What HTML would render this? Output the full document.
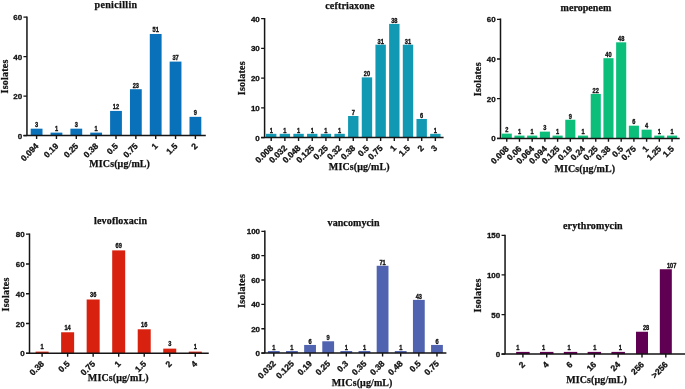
<!DOCTYPE html>
<html><head><meta charset="utf-8"><style>
html,body{margin:0;padding:0;background:#fff;}
body{width:685px;height:389px;overflow:hidden;}
svg{display:block;will-change:transform;}
.yt{font-family:'Liberation Sans', sans-serif;font-weight:bold;font-size:8px;fill:#111;stroke:#111;stroke-width:0.3px;}
.xt{font-family:'Liberation Sans', sans-serif;font-weight:bold;font-size:8.5px;fill:#111;stroke:#111;stroke-width:0.3px;}
.vl{font-family:'Liberation Sans', sans-serif;font-weight:bold;font-size:6.8px;fill:#111;stroke:#111;stroke-width:0.35px;}
.ti{font-family:'Liberation Serif', serif;font-weight:bold;font-size:10px;fill:#111;stroke:#111;stroke-width:0.25px;}
</style></head><body>
<svg width="685" height="389" viewBox="0 0 685 389">
<rect x="30.7" y="128.68" width="11.8" height="6.92" fill="#0871b9"/>
<rect x="50.55" y="132.63" width="11.8" height="2.97" fill="#0871b9"/>
<rect x="70.4" y="128.68" width="11.8" height="6.92" fill="#0871b9"/>
<rect x="90.25" y="132.63" width="11.8" height="2.97" fill="#0871b9"/>
<rect x="110.1" y="110.92" width="11.8" height="24.68" fill="#0871b9"/>
<rect x="129.95" y="89.21" width="11.8" height="46.39" fill="#0871b9"/>
<rect x="149.8" y="33.96" width="11.8" height="101.64" fill="#0871b9"/>
<rect x="169.65" y="61.59" width="11.8" height="74.01" fill="#0871b9"/>
<rect x="189.5" y="116.84" width="11.8" height="18.76" fill="#0871b9"/>
<path d="M26.95 16.5V135.6M23.45 135.6H205.8" stroke="#151515" stroke-width="1.5" fill="none"/>
<text x="22.15" y="138.6" text-anchor="end" class="yt">0</text>
<text x="22.15" y="99.13" text-anchor="end" class="yt">20</text>
<text x="22.15" y="59.67" text-anchor="end" class="yt">40</text>
<text x="22.15" y="20.2" text-anchor="end" class="yt">60</text>
<path d="M23.45 135.6H26.95M23.45 96.13H26.95M23.45 56.67H26.95M23.45 17.2H26.95" stroke="#151515" stroke-width="1.3" fill="none"/>
<text transform="translate(39.2 146.6) rotate(-45)" text-anchor="end" class="xt">0.094</text>
<text transform="translate(59.05 146.6) rotate(-45)" text-anchor="end" class="xt">0.19</text>
<text transform="translate(78.9 146.6) rotate(-45)" text-anchor="end" class="xt">0.25</text>
<text transform="translate(98.75 146.6) rotate(-45)" text-anchor="end" class="xt">0.38</text>
<text transform="translate(118.6 146.6) rotate(-45)" text-anchor="end" class="xt">0.5</text>
<text transform="translate(138.45 146.6) rotate(-45)" text-anchor="end" class="xt">0.75</text>
<text transform="translate(158.3 146.6) rotate(-45)" text-anchor="end" class="xt">1</text>
<text transform="translate(178.15 146.6) rotate(-45)" text-anchor="end" class="xt">1.5</text>
<text transform="translate(198 146.6) rotate(-45)" text-anchor="end" class="xt">2</text>
<path d="M36.6 135.6V139M56.45 135.6V139M76.3 135.6V139M96.15 135.6V139M116 135.6V139M135.85 135.6V139M155.7 135.6V139M175.55 135.6V139M195.4 135.6V139" stroke="#151515" stroke-width="1.4" fill="none"/>
<text x="36.6" y="127.18" text-anchor="middle" class="vl" textLength="3.15" lengthAdjust="spacingAndGlyphs">3</text>
<text x="56.45" y="131.13" text-anchor="middle" class="vl" textLength="3.15" lengthAdjust="spacingAndGlyphs">1</text>
<text x="76.3" y="127.18" text-anchor="middle" class="vl" textLength="3.15" lengthAdjust="spacingAndGlyphs">3</text>
<text x="96.15" y="131.13" text-anchor="middle" class="vl" textLength="3.15" lengthAdjust="spacingAndGlyphs">1</text>
<text x="116" y="109.42" text-anchor="middle" class="vl" textLength="6.3" lengthAdjust="spacingAndGlyphs">12</text>
<text x="135.85" y="87.71" text-anchor="middle" class="vl" textLength="6.3" lengthAdjust="spacingAndGlyphs">23</text>
<text x="155.7" y="32.46" text-anchor="middle" class="vl" textLength="6.3" lengthAdjust="spacingAndGlyphs">51</text>
<text x="175.55" y="60.09" text-anchor="middle" class="vl" textLength="6.3" lengthAdjust="spacingAndGlyphs">37</text>
<text x="195.4" y="115.34" text-anchor="middle" class="vl" textLength="3.15" lengthAdjust="spacingAndGlyphs">9</text>
<text x="115.8" y="7.8" text-anchor="middle" class="ti" textLength="42.6" lengthAdjust="spacing">penicillin</text>
<text x="119.6" y="166.8" text-anchor="middle" class="ti" textLength="60.7" lengthAdjust="spacing">MICs(μg/mL)</text>
<text transform="translate(8.1 76.6) rotate(-90)" text-anchor="middle" class="ti" textLength="33.8" lengthAdjust="spacing">Isolates</text>
<rect x="266" y="133.83" width="10.4" height="3.72" fill="#1199b3"/>
<rect x="279.68" y="133.83" width="10.4" height="3.72" fill="#1199b3"/>
<rect x="293.36" y="133.83" width="10.4" height="3.72" fill="#1199b3"/>
<rect x="307.04" y="133.83" width="10.4" height="3.72" fill="#1199b3"/>
<rect x="320.72" y="133.83" width="10.4" height="3.72" fill="#1199b3"/>
<rect x="334.4" y="133.83" width="10.4" height="3.72" fill="#1199b3"/>
<rect x="348.08" y="116" width="10.4" height="21.55" fill="#1199b3"/>
<rect x="361.76" y="77.38" width="10.4" height="60.18" fill="#1199b3"/>
<rect x="375.44" y="44.69" width="10.4" height="92.86" fill="#1199b3"/>
<rect x="389.12" y="23.89" width="10.4" height="113.66" fill="#1199b3"/>
<rect x="402.8" y="44.69" width="10.4" height="92.86" fill="#1199b3"/>
<rect x="416.48" y="118.97" width="10.4" height="18.58" fill="#1199b3"/>
<rect x="430.16" y="133.83" width="10.4" height="3.72" fill="#1199b3"/>
<path d="M264.6 18V137.55M261.1 137.55H443.6" stroke="#151515" stroke-width="1.5" fill="none"/>
<text x="259.8" y="140.55" text-anchor="end" class="yt">0</text>
<text x="259.8" y="110.84" text-anchor="end" class="yt">10</text>
<text x="259.8" y="81.12" text-anchor="end" class="yt">20</text>
<text x="259.8" y="51.41" text-anchor="end" class="yt">30</text>
<text x="259.8" y="21.7" text-anchor="end" class="yt">40</text>
<path d="M261.1 137.55H264.6M261.1 107.84H264.6M261.1 78.12H264.6M261.1 48.41H264.6M261.1 18.7H264.6" stroke="#151515" stroke-width="1.3" fill="none"/>
<text transform="translate(273.8 148.55) rotate(-45)" text-anchor="end" class="xt">0.008</text>
<text transform="translate(287.48 148.55) rotate(-45)" text-anchor="end" class="xt">0.032</text>
<text transform="translate(301.16 148.55) rotate(-45)" text-anchor="end" class="xt">0.048</text>
<text transform="translate(314.84 148.55) rotate(-45)" text-anchor="end" class="xt">0.125</text>
<text transform="translate(328.52 148.55) rotate(-45)" text-anchor="end" class="xt">0.25</text>
<text transform="translate(342.2 148.55) rotate(-45)" text-anchor="end" class="xt">0.32</text>
<text transform="translate(355.88 148.55) rotate(-45)" text-anchor="end" class="xt">0.38</text>
<text transform="translate(369.56 148.55) rotate(-45)" text-anchor="end" class="xt">0.5</text>
<text transform="translate(383.24 148.55) rotate(-45)" text-anchor="end" class="xt">0.75</text>
<text transform="translate(396.92 148.55) rotate(-45)" text-anchor="end" class="xt">1</text>
<text transform="translate(410.6 148.55) rotate(-45)" text-anchor="end" class="xt">1.5</text>
<text transform="translate(424.28 148.55) rotate(-45)" text-anchor="end" class="xt">2</text>
<text transform="translate(437.96 148.55) rotate(-45)" text-anchor="end" class="xt">3</text>
<path d="M271.2 137.55V140.95M284.88 137.55V140.95M298.56 137.55V140.95M312.24 137.55V140.95M325.92 137.55V140.95M339.6 137.55V140.95M353.28 137.55V140.95M366.96 137.55V140.95M380.64 137.55V140.95M394.32 137.55V140.95M408 137.55V140.95M421.68 137.55V140.95M435.36 137.55V140.95" stroke="#151515" stroke-width="1.4" fill="none"/>
<text x="271.2" y="132.73" text-anchor="middle" class="vl" textLength="3.15" lengthAdjust="spacingAndGlyphs">1</text>
<text x="284.88" y="132.73" text-anchor="middle" class="vl" textLength="3.15" lengthAdjust="spacingAndGlyphs">1</text>
<text x="298.56" y="132.73" text-anchor="middle" class="vl" textLength="3.15" lengthAdjust="spacingAndGlyphs">1</text>
<text x="312.24" y="132.73" text-anchor="middle" class="vl" textLength="3.15" lengthAdjust="spacingAndGlyphs">1</text>
<text x="325.92" y="132.73" text-anchor="middle" class="vl" textLength="3.15" lengthAdjust="spacingAndGlyphs">1</text>
<text x="339.6" y="132.73" text-anchor="middle" class="vl" textLength="3.15" lengthAdjust="spacingAndGlyphs">1</text>
<text x="353.28" y="114.9" text-anchor="middle" class="vl" textLength="3.15" lengthAdjust="spacingAndGlyphs">7</text>
<text x="366.96" y="76.28" text-anchor="middle" class="vl" textLength="6.3" lengthAdjust="spacingAndGlyphs">20</text>
<text x="380.64" y="43.59" text-anchor="middle" class="vl" textLength="6.3" lengthAdjust="spacingAndGlyphs">31</text>
<text x="394.32" y="22.79" text-anchor="middle" class="vl" textLength="6.3" lengthAdjust="spacingAndGlyphs">38</text>
<text x="408" y="43.59" text-anchor="middle" class="vl" textLength="6.3" lengthAdjust="spacingAndGlyphs">31</text>
<text x="421.68" y="117.87" text-anchor="middle" class="vl" textLength="3.15" lengthAdjust="spacingAndGlyphs">6</text>
<text x="435.36" y="132.73" text-anchor="middle" class="vl" textLength="3.15" lengthAdjust="spacingAndGlyphs">1</text>
<text x="349.85" y="9.1" text-anchor="middle" class="ti" textLength="49.3" lengthAdjust="spacing">ceftriaxone</text>
<text x="359.2" y="169.7" text-anchor="middle" class="ti" textLength="60.7" lengthAdjust="spacing">MICs(μg/mL)</text>
<text transform="translate(244.9 78.3) rotate(-90)" text-anchor="middle" class="ti" textLength="33.8" lengthAdjust="spacing">Isolates</text>
<rect x="501.7" y="133.63" width="10.1" height="4.77" fill="#0bbf7b"/>
<rect x="514.42" y="135.61" width="10.1" height="2.79" fill="#0bbf7b"/>
<rect x="527.13" y="135.61" width="10.1" height="2.79" fill="#0bbf7b"/>
<rect x="539.85" y="131.64" width="10.1" height="6.75" fill="#0bbf7b"/>
<rect x="552.56" y="135.61" width="10.1" height="2.79" fill="#0bbf7b"/>
<rect x="565.28" y="119.73" width="10.1" height="18.67" fill="#0bbf7b"/>
<rect x="577.99" y="135.61" width="10.1" height="2.79" fill="#0bbf7b"/>
<rect x="590.71" y="93.93" width="10.1" height="44.47" fill="#0bbf7b"/>
<rect x="603.42" y="58.2" width="10.1" height="80.2" fill="#0bbf7b"/>
<rect x="616.13" y="42.32" width="10.1" height="96.08" fill="#0bbf7b"/>
<rect x="628.85" y="125.69" width="10.1" height="12.71" fill="#0bbf7b"/>
<rect x="641.57" y="129.66" width="10.1" height="8.74" fill="#0bbf7b"/>
<rect x="654.28" y="135.61" width="10.1" height="2.79" fill="#0bbf7b"/>
<rect x="667" y="135.61" width="10.1" height="2.79" fill="#0bbf7b"/>
<path d="M500.5 18.6V138.4M497 138.4H679.7" stroke="#151515" stroke-width="1.5" fill="none"/>
<text x="495.7" y="141.4" text-anchor="end" class="yt">0</text>
<text x="495.7" y="101.7" text-anchor="end" class="yt">20</text>
<text x="495.7" y="62" text-anchor="end" class="yt">40</text>
<text x="495.7" y="22.3" text-anchor="end" class="yt">60</text>
<path d="M497 138.4H500.5M497 98.7H500.5M497 59H500.5M497 19.3H500.5" stroke="#151515" stroke-width="1.3" fill="none"/>
<text transform="translate(509.35 149.4) rotate(-45)" text-anchor="end" class="xt">0.008</text>
<text transform="translate(522.07 149.4) rotate(-45)" text-anchor="end" class="xt">0.06</text>
<text transform="translate(534.78 149.4) rotate(-45)" text-anchor="end" class="xt">0.064</text>
<text transform="translate(547.5 149.4) rotate(-45)" text-anchor="end" class="xt">0.094</text>
<text transform="translate(560.21 149.4) rotate(-45)" text-anchor="end" class="xt">0.125</text>
<text transform="translate(572.93 149.4) rotate(-45)" text-anchor="end" class="xt">0.19</text>
<text transform="translate(585.64 149.4) rotate(-45)" text-anchor="end" class="xt">0.24</text>
<text transform="translate(598.36 149.4) rotate(-45)" text-anchor="end" class="xt">0.25</text>
<text transform="translate(611.07 149.4) rotate(-45)" text-anchor="end" class="xt">0.38</text>
<text transform="translate(623.78 149.4) rotate(-45)" text-anchor="end" class="xt">0.5</text>
<text transform="translate(636.5 149.4) rotate(-45)" text-anchor="end" class="xt">0.75</text>
<text transform="translate(649.22 149.4) rotate(-45)" text-anchor="end" class="xt">1</text>
<text transform="translate(661.93 149.4) rotate(-45)" text-anchor="end" class="xt">1.25</text>
<text transform="translate(674.64 149.4) rotate(-45)" text-anchor="end" class="xt">1.5</text>
<path d="M506.75 138.4V141.8M519.47 138.4V141.8M532.18 138.4V141.8M544.89 138.4V141.8M557.61 138.4V141.8M570.33 138.4V141.8M583.04 138.4V141.8M595.75 138.4V141.8M608.47 138.4V141.8M621.18 138.4V141.8M633.9 138.4V141.8M646.62 138.4V141.8M659.33 138.4V141.8M672.04 138.4V141.8" stroke="#151515" stroke-width="1.4" fill="none"/>
<text x="506.75" y="132.43" text-anchor="middle" class="vl" textLength="3.15" lengthAdjust="spacingAndGlyphs">2</text>
<text x="519.47" y="134.41" text-anchor="middle" class="vl" textLength="3.15" lengthAdjust="spacingAndGlyphs">1</text>
<text x="532.18" y="134.41" text-anchor="middle" class="vl" textLength="3.15" lengthAdjust="spacingAndGlyphs">1</text>
<text x="544.89" y="130.44" text-anchor="middle" class="vl" textLength="3.15" lengthAdjust="spacingAndGlyphs">3</text>
<text x="557.61" y="134.41" text-anchor="middle" class="vl" textLength="3.15" lengthAdjust="spacingAndGlyphs">1</text>
<text x="570.33" y="118.53" text-anchor="middle" class="vl" textLength="3.15" lengthAdjust="spacingAndGlyphs">9</text>
<text x="583.04" y="134.41" text-anchor="middle" class="vl" textLength="3.15" lengthAdjust="spacingAndGlyphs">1</text>
<text x="595.75" y="92.73" text-anchor="middle" class="vl" textLength="6.3" lengthAdjust="spacingAndGlyphs">22</text>
<text x="608.47" y="57" text-anchor="middle" class="vl" textLength="6.3" lengthAdjust="spacingAndGlyphs">40</text>
<text x="621.18" y="41.12" text-anchor="middle" class="vl" textLength="6.3" lengthAdjust="spacingAndGlyphs">48</text>
<text x="633.9" y="124.49" text-anchor="middle" class="vl" textLength="3.15" lengthAdjust="spacingAndGlyphs">6</text>
<text x="646.62" y="128.46" text-anchor="middle" class="vl" textLength="3.15" lengthAdjust="spacingAndGlyphs">4</text>
<text x="659.33" y="134.41" text-anchor="middle" class="vl" textLength="3.15" lengthAdjust="spacingAndGlyphs">1</text>
<text x="672.04" y="134.41" text-anchor="middle" class="vl" textLength="3.15" lengthAdjust="spacingAndGlyphs">1</text>
<text x="585.9" y="11.3" text-anchor="middle" class="ti" textLength="50.8" lengthAdjust="spacing">meropenem</text>
<text x="584.8" y="171.7" text-anchor="middle" class="ti" textLength="60.7" lengthAdjust="spacing">MICs(μg/mL)</text>
<text transform="translate(481 79.3) rotate(-90)" text-anchor="middle" class="ti" textLength="33.8" lengthAdjust="spacing">Isolates</text>
<rect x="35.6" y="351.61" width="13" height="1.69" fill="#d8220f"/>
<rect x="61.13" y="332.26" width="13" height="21.04" fill="#d8220f"/>
<rect x="86.66" y="299.5" width="13" height="53.8" fill="#d8220f"/>
<rect x="112.19" y="250.38" width="13" height="102.92" fill="#d8220f"/>
<rect x="137.72" y="329.28" width="13" height="24.02" fill="#d8220f"/>
<rect x="163.25" y="348.63" width="13" height="4.67" fill="#d8220f"/>
<rect x="188.78" y="351.61" width="13" height="1.69" fill="#d8220f"/>
<path d="M29.5 233.5V353.3M26 353.3H208.75" stroke="#151515" stroke-width="1.5" fill="none"/>
<text x="24.7" y="356.3" text-anchor="end" class="yt">0</text>
<text x="24.7" y="326.52" text-anchor="end" class="yt">20</text>
<text x="24.7" y="296.75" text-anchor="end" class="yt">40</text>
<text x="24.7" y="266.98" text-anchor="end" class="yt">60</text>
<text x="24.7" y="237.2" text-anchor="end" class="yt">80</text>
<path d="M26 353.3H29.5M26 323.52H29.5M26 293.75H29.5M26 263.98H29.5M26 234.2H29.5" stroke="#151515" stroke-width="1.3" fill="none"/>
<text transform="translate(44.7 364.3) rotate(-45)" text-anchor="end" class="xt">0.38</text>
<text transform="translate(70.23 364.3) rotate(-45)" text-anchor="end" class="xt">0.5</text>
<text transform="translate(95.76 364.3) rotate(-45)" text-anchor="end" class="xt">0.75</text>
<text transform="translate(121.29 364.3) rotate(-45)" text-anchor="end" class="xt">1</text>
<text transform="translate(146.82 364.3) rotate(-45)" text-anchor="end" class="xt">1.5</text>
<text transform="translate(172.35 364.3) rotate(-45)" text-anchor="end" class="xt">2</text>
<text transform="translate(197.88 364.3) rotate(-45)" text-anchor="end" class="xt">4</text>
<path d="M42.1 353.3V356.7M67.63 353.3V356.7M93.16 353.3V356.7M118.69 353.3V356.7M144.22 353.3V356.7M169.75 353.3V356.7M195.28 353.3V356.7" stroke="#151515" stroke-width="1.4" fill="none"/>
<text x="42.1" y="349.41" text-anchor="middle" class="vl" textLength="3.15" lengthAdjust="spacingAndGlyphs">1</text>
<text x="67.63" y="330.06" text-anchor="middle" class="vl" textLength="6.3" lengthAdjust="spacingAndGlyphs">14</text>
<text x="93.16" y="297.31" text-anchor="middle" class="vl" textLength="6.3" lengthAdjust="spacingAndGlyphs">36</text>
<text x="118.69" y="248.18" text-anchor="middle" class="vl" textLength="6.3" lengthAdjust="spacingAndGlyphs">69</text>
<text x="144.22" y="327.08" text-anchor="middle" class="vl" textLength="6.3" lengthAdjust="spacingAndGlyphs">16</text>
<text x="169.75" y="346.43" text-anchor="middle" class="vl" textLength="3.15" lengthAdjust="spacingAndGlyphs">3</text>
<text x="195.28" y="349.41" text-anchor="middle" class="vl" textLength="3.15" lengthAdjust="spacingAndGlyphs">1</text>
<text x="120.5" y="224.3" text-anchor="middle" class="ti" textLength="53" lengthAdjust="spacing">levofloxacin</text>
<text x="118.2" y="380.7" text-anchor="middle" class="ti" textLength="60.7" lengthAdjust="spacing">MICs(μg/mL)</text>
<text transform="translate(9.3 294.5) rotate(-90)" text-anchor="middle" class="ti" textLength="33.8" lengthAdjust="spacing">Isolates</text>
<rect x="267.9" y="351.03" width="11.8" height="2.07" fill="#4f63b0"/>
<rect x="286.03" y="351.03" width="11.8" height="2.07" fill="#4f63b0"/>
<rect x="304.16" y="344.94" width="11.8" height="8.16" fill="#4f63b0"/>
<rect x="322.29" y="341.29" width="11.8" height="11.81" fill="#4f63b0"/>
<rect x="340.42" y="351.03" width="11.8" height="2.07" fill="#4f63b0"/>
<rect x="358.55" y="351.03" width="11.8" height="2.07" fill="#4f63b0"/>
<rect x="376.68" y="265.77" width="11.8" height="87.33" fill="#4f63b0"/>
<rect x="394.81" y="351.03" width="11.8" height="2.07" fill="#4f63b0"/>
<rect x="412.94" y="299.88" width="11.8" height="53.22" fill="#4f63b0"/>
<rect x="431.07" y="344.94" width="11.8" height="8.16" fill="#4f63b0"/>
<path d="M264.85 230.6V353.1M261.35 353.1H446.4" stroke="#151515" stroke-width="1.5" fill="none"/>
<text x="260.05" y="356.1" text-anchor="end" class="yt">0</text>
<text x="260.05" y="331.74" text-anchor="end" class="yt">20</text>
<text x="260.05" y="307.38" text-anchor="end" class="yt">40</text>
<text x="260.05" y="283.02" text-anchor="end" class="yt">60</text>
<text x="260.05" y="258.66" text-anchor="end" class="yt">80</text>
<text x="260.05" y="234.3" text-anchor="end" class="yt">100</text>
<path d="M261.35 353.1H264.85M261.35 328.74H264.85M261.35 304.38H264.85M261.35 280.02H264.85M261.35 255.66H264.85M261.35 231.3H264.85" stroke="#151515" stroke-width="1.3" fill="none"/>
<text transform="translate(276.4 364.1) rotate(-45)" text-anchor="end" class="xt">0.032</text>
<text transform="translate(294.53 364.1) rotate(-45)" text-anchor="end" class="xt">0.125</text>
<text transform="translate(312.66 364.1) rotate(-45)" text-anchor="end" class="xt">0.19</text>
<text transform="translate(330.79 364.1) rotate(-45)" text-anchor="end" class="xt">0.25</text>
<text transform="translate(348.92 364.1) rotate(-45)" text-anchor="end" class="xt">0.3</text>
<text transform="translate(367.05 364.1) rotate(-45)" text-anchor="end" class="xt">0.35</text>
<text transform="translate(385.18 364.1) rotate(-45)" text-anchor="end" class="xt">0.38</text>
<text transform="translate(403.31 364.1) rotate(-45)" text-anchor="end" class="xt">0.48</text>
<text transform="translate(421.44 364.1) rotate(-45)" text-anchor="end" class="xt">0.5</text>
<text transform="translate(439.57 364.1) rotate(-45)" text-anchor="end" class="xt">0.75</text>
<path d="M273.8 353.1V356.5M291.93 353.1V356.5M310.06 353.1V356.5M328.19 353.1V356.5M346.32 353.1V356.5M364.45 353.1V356.5M382.58 353.1V356.5M400.71 353.1V356.5M418.84 353.1V356.5M436.97 353.1V356.5" stroke="#151515" stroke-width="1.4" fill="none"/>
<text x="273.8" y="350.03" text-anchor="middle" class="vl" textLength="3.15" lengthAdjust="spacingAndGlyphs">1</text>
<text x="291.93" y="350.03" text-anchor="middle" class="vl" textLength="3.15" lengthAdjust="spacingAndGlyphs">1</text>
<text x="310.06" y="343.94" text-anchor="middle" class="vl" textLength="3.15" lengthAdjust="spacingAndGlyphs">6</text>
<text x="328.19" y="340.29" text-anchor="middle" class="vl" textLength="3.15" lengthAdjust="spacingAndGlyphs">9</text>
<text x="346.32" y="350.03" text-anchor="middle" class="vl" textLength="3.15" lengthAdjust="spacingAndGlyphs">1</text>
<text x="364.45" y="350.03" text-anchor="middle" class="vl" textLength="3.15" lengthAdjust="spacingAndGlyphs">1</text>
<text x="382.58" y="264.77" text-anchor="middle" class="vl" textLength="6.3" lengthAdjust="spacingAndGlyphs">71</text>
<text x="400.71" y="350.03" text-anchor="middle" class="vl" textLength="3.15" lengthAdjust="spacingAndGlyphs">1</text>
<text x="418.84" y="298.88" text-anchor="middle" class="vl" textLength="6.3" lengthAdjust="spacingAndGlyphs">43</text>
<text x="436.97" y="343.94" text-anchor="middle" class="vl" textLength="3.15" lengthAdjust="spacingAndGlyphs">6</text>
<text x="353.5" y="225.5" text-anchor="middle" class="ti" textLength="51.9" lengthAdjust="spacing">vancomycin</text>
<text x="362.1" y="385.9" text-anchor="middle" class="ti" textLength="60.7" lengthAdjust="spacing">MICs(μg/mL)</text>
<text transform="translate(245 291) rotate(-90)" text-anchor="middle" class="ti" textLength="33.8" lengthAdjust="spacing">Isolates</text>
<rect x="516.15" y="351.9" width="13.5" height="2.2" fill="#600052"/>
<rect x="539.97" y="351.9" width="13.5" height="2.2" fill="#600052"/>
<rect x="563.79" y="351.9" width="13.5" height="2.2" fill="#600052"/>
<rect x="587.61" y="351.9" width="13.5" height="2.2" fill="#600052"/>
<rect x="611.43" y="351.9" width="13.5" height="2.2" fill="#600052"/>
<rect x="636" y="331.74" width="12" height="22.36" fill="#600052"/>
<rect x="659.82" y="269.23" width="12" height="84.87" fill="#600052"/>
<path d="M505.05 234.7V354.1M501.55 354.1H685" stroke="#151515" stroke-width="1.5" fill="none"/>
<text x="500.25" y="357.1" text-anchor="end" class="yt">0</text>
<text x="500.25" y="317.53" text-anchor="end" class="yt">50</text>
<text x="500.25" y="277.97" text-anchor="end" class="yt">100</text>
<text x="500.25" y="238.4" text-anchor="end" class="yt">150</text>
<path d="M501.55 354.1H505.05M501.55 314.53H505.05M501.55 274.97H505.05M501.55 235.4H505.05" stroke="#151515" stroke-width="1.3" fill="none"/>
<text transform="translate(525.5 365.1) rotate(-45)" text-anchor="end" class="xt">2</text>
<text transform="translate(549.32 365.1) rotate(-45)" text-anchor="end" class="xt">4</text>
<text transform="translate(573.14 365.1) rotate(-45)" text-anchor="end" class="xt">6</text>
<text transform="translate(596.96 365.1) rotate(-45)" text-anchor="end" class="xt">16</text>
<text transform="translate(620.78 365.1) rotate(-45)" text-anchor="end" class="xt">24</text>
<text transform="translate(644.6 365.1) rotate(-45)" text-anchor="end" class="xt">256</text>
<text transform="translate(668.42 365.1) rotate(-45)" text-anchor="end" class="xt">&gt;256</text>
<path d="M522.9 354.1V357.5M546.72 354.1V357.5M570.54 354.1V357.5M594.36 354.1V357.5M618.18 354.1V357.5M642 354.1V357.5M665.82 354.1V357.5" stroke="#151515" stroke-width="1.4" fill="none"/>
<text x="517.8" y="350.3" text-anchor="middle" class="vl" textLength="3.15" lengthAdjust="spacingAndGlyphs">1</text>
<text x="543.45" y="350.3" text-anchor="middle" class="vl" textLength="3.15" lengthAdjust="spacingAndGlyphs">1</text>
<text x="569.1" y="350.3" text-anchor="middle" class="vl" textLength="3.15" lengthAdjust="spacingAndGlyphs">1</text>
<text x="594.75" y="350.3" text-anchor="middle" class="vl" textLength="3.15" lengthAdjust="spacingAndGlyphs">1</text>
<text x="620.4" y="350.3" text-anchor="middle" class="vl" textLength="3.15" lengthAdjust="spacingAndGlyphs">1</text>
<text x="646.05" y="330.14" text-anchor="middle" class="vl" textLength="6.3" lengthAdjust="spacingAndGlyphs">28</text>
<text x="671.7" y="267.63" text-anchor="middle" class="vl" textLength="9.45" lengthAdjust="spacingAndGlyphs">107</text>
<text x="592.8" y="229.3" text-anchor="middle" class="ti" textLength="59.6" lengthAdjust="spacing">erythromycin</text>
<text x="596.5" y="382.9" text-anchor="middle" class="ti" textLength="60.7" lengthAdjust="spacing">MICs(μg/mL)</text>
<text transform="translate(481 295.5) rotate(-90)" text-anchor="middle" class="ti" textLength="33.8" lengthAdjust="spacing">Isolates</text>
</svg>
</body></html>
